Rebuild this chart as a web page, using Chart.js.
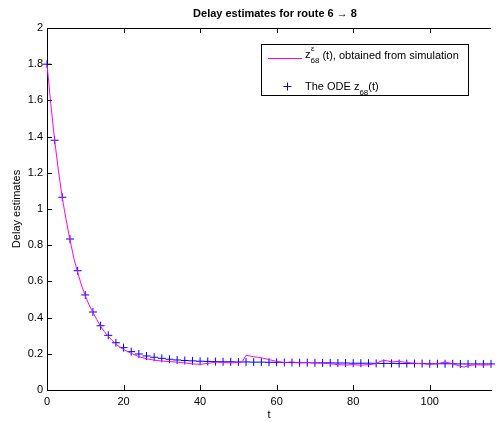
<!DOCTYPE html>
<html>
<head>
<meta charset="utf-8">
<script src="https://cdn.jsdelivr.net/npm/chart.js@4.4.0/dist/chart.umd.min.js"></script>
<style>
html, body { margin: 0; padding: 0; background: #fff; }
#wrap { width: 496px; height: 422px; }
</style>
</head>
<body>
<div id="wrap"><canvas id="delayChart" width="496" height="422"></canvas></div>
<script>
// ODE solution, sampled every 2 time units
var odeT = [0, 2, 4, 6, 8, 10, 12, 14, 16, 18, 20, 22, 24, 26, 28, 30, 32, 34, 36, 38,
            40, 42, 44, 46, 48, 50, 52, 54, 56, 58, 60, 62, 64, 66, 68, 70, 72, 74, 76, 78,
            80, 82, 84, 86, 88, 90, 92, 94, 96, 98, 100, 102, 104, 106, 108, 110, 112, 114, 116];
var odeZ = [1.80, 1.38, 1.065, 0.834, 0.659, 0.525, 0.431, 0.355, 0.302, 0.261,
            0.234, 0.212, 0.199, 0.188, 0.181, 0.175, 0.170, 0.166, 0.163, 0.161,
            0.159, 0.158, 0.157, 0.156, 0.156, 0.155, 0.155, 0.154, 0.154, 0.153,
            0.153, 0.152, 0.152, 0.151, 0.151, 0.150, 0.150, 0.150, 0.149, 0.149,
            0.148, 0.148, 0.148, 0.147, 0.147, 0.147, 0.146, 0.146, 0.146, 0.146,
            0.145, 0.145, 0.145, 0.145, 0.144, 0.144, 0.144, 0.144, 0.144];

// simulation trace
var simT = [0, 1, 2, 3, 4, 5, 6, 7, 8, 9, 10, 11, 12, 13, 14, 15, 16, 17, 18, 19, 20,
            22, 24, 26, 28, 30, 32, 34, 36, 38, 40, 42, 44, 46, 48, 50, 51, 52, 53, 54, 56, 58,
            60, 62, 64, 66, 68, 70, 72, 74, 76, 78, 80, 82, 84, 86, 87, 88, 89, 90, 92, 94,
            96, 98, 100, 102, 104, 105, 106, 108, 109, 110, 112, 114, 116];
var simZ = [1.80, 1.58, 1.38, 1.21, 1.06, 0.94, 0.83, 0.73, 0.65, 0.58, 0.52, 0.47, 0.428, 0.39, 0.352, 0.322, 0.297, 0.274, 0.254, 0.238, 0.224,
            0.203, 0.184, 0.172, 0.165, 0.160, 0.157, 0.154, 0.150, 0.144, 0.142, 0.147, 0.154, 0.152, 0.150, 0.152, 0.155, 0.192, 0.188, 0.184, 0.178, 0.168,
            0.158, 0.152, 0.155, 0.150, 0.152, 0.150, 0.148, 0.145, 0.140, 0.138, 0.140, 0.137, 0.140, 0.145, 0.158, 0.163, 0.161, 0.155, 0.158, 0.152,
            0.148, 0.145, 0.142, 0.145, 0.155, 0.150, 0.145, 0.131, 0.127, 0.134, 0.140, 0.137, 0.140];

var xTickValues = [0, 20, 40, 60, 80, 100];
var yTickValues = [0, 0.2, 0.4, 0.6, 0.8, 1, 1.2, 1.4, 1.6, 1.8, 2];
var titleText = 'Delay estimates for route 6 \u2192 8';
var xLabel = 't';
var yLabel = 'Delay estimates';

var FONT = '"Liberation Sans", Arial, Helvetica, sans-serif';

function toPoints(xs, ys) {
    return xs.map(function(x, i) { return { x: x, y: ys[i] }; });
}

// MATLAB-like frame: inward ticks, top border, title and legend box
var matlabFrame = {
    id: 'matlabFrame',
    afterDraw: function(chart) {
        var ctx = chart.ctx;
        var area = chart.chartArea;
        var xs = chart.scales.x, ys = chart.scales.y;
        ctx.save();
        ctx.strokeStyle = '#000';
        ctx.lineWidth = 1;
        ctx.beginPath();
        ctx.moveTo(area.left, area.top + 0.5);
        ctx.lineTo(area.right, area.top + 0.5);
        xTickValues.forEach(function(v) {
            var px = Math.round(xs.getPixelForValue(v)) + 0.5;
            ctx.moveTo(px, area.bottom);
            ctx.lineTo(px, area.bottom - 5);
            ctx.moveTo(px, area.top);
            ctx.lineTo(px, area.top + 5);
        });
        yTickValues.forEach(function(v) {
            var py = Math.round(ys.getPixelForValue(v)) + 0.5;
            ctx.moveTo(area.left, py);
            ctx.lineTo(area.left + 5, py);
        });
        ctx.stroke();

        // title
        ctx.fillStyle = '#000';
        ctx.font = 'bold 11px ' + FONT;
        ctx.textAlign = 'center';
        ctx.textBaseline = 'alphabetic';
        ctx.fillText(titleText, 275, 17);

        // legend
        var bx = 261.5, by = 44.5, bw = 207, bh = 51;
        ctx.fillStyle = '#fff';
        ctx.fillRect(bx, by, bw, bh);
        ctx.strokeStyle = '#000';
        ctx.strokeRect(bx, by, bw, bh);

        ctx.strokeStyle = '#ff00ff';
        ctx.beginPath();
        ctx.moveTo(268, 58.5);
        ctx.lineTo(302, 58.5);
        ctx.stroke();

        ctx.strokeStyle = '#0000ff';
        ctx.beginPath();
        ctx.moveTo(283.5, 86.5);
        ctx.lineTo(291.5, 86.5);
        ctx.moveTo(287.5, 82.5);
        ctx.lineTo(287.5, 90.5);
        ctx.stroke();

        ctx.fillStyle = '#000';
        ctx.textAlign = 'left';
        var big = '11px ' + FONT, small = '8px ' + FONT;
        var x = 305;
        ctx.font = big;
        ctx.fillText('z', x, 58);
        x += ctx.measureText('z').width;
        ctx.font = small;
        ctx.fillText('\u03b5', x + 0.5, 51);
        ctx.fillText('68', x, 63);
        x += ctx.measureText('68').width;
        ctx.font = big;
        ctx.fillText(' (t), obtained from simulation', x, 59);

        x = 305;
        ctx.fillText('The ODE z', x, 90);
        x += ctx.measureText('The ODE z').width;
        ctx.font = small;
        ctx.fillText('68', x, 95);
        x += ctx.measureText('68').width;
        ctx.font = big;
        ctx.fillText('(t)', x, 90);
        ctx.restore();
    }
};

var ctx = document.getElementById('delayChart').getContext('2d');
var delayChart = new Chart(ctx, {
    type: 'scatter',
    data: {
        datasets: [{
            label: 'simulation',
            data: toPoints(simT, simZ),
            showLine: true,
            borderColor: '#ff00ff',
            borderWidth: 1,
            pointRadius: 0,
            fill: false,
            tension: 0
        }, {
            label: 'ODE',
            data: toPoints(odeT, odeZ),
            showLine: false,
            clip: false,
            pointStyle: 'cross',
            pointRadius: 4,
            borderColor: '#0000ff',
            backgroundColor: '#0000ff',
            pointBorderWidth: 1
        }]
    },
    options: {
        responsive: false,
        animation: false,
        devicePixelRatio: 1,
        layout: { padding: { top: 28, right: 0, left: 0, bottom: 0 } },
        plugins: {
            legend: { display: false },
            tooltip: { enabled: false },
            title: { display: false }
        },
        scales: {
            x: {
                type: 'linear',
                min: 0,
                max: 116,
                afterFit: function(scale) { scale.height = 32; },
                afterBuildTicks: function(scale) {
                    scale.ticks = xTickValues.map(function(v) { return { value: v }; });
                },
                grid: { display: false, drawTicks: false },
                border: { display: true, color: '#000', width: 1 },
                ticks: { color: '#000', font: { size: 11, family: FONT }, padding: 5, maxRotation: 0 },
                title: { display: true, text: xLabel, color: '#000', font: { size: 11, family: FONT }, padding: { top: 3, bottom: 0 } }
            },
            y: {
                min: 0,
                max: 2,
                afterFit: function(scale) { scale.width = 47; },
                afterBuildTicks: function(scale) {
                    scale.ticks = yTickValues.map(function(v) { return { value: v }; });
                },
                grid: { display: false, drawTicks: false },
                border: { display: true, color: '#000', width: 1 },
                ticks: {
                    color: '#000',
                    font: { size: 11, family: FONT },
                    padding: 4,
                    callback: function(v) { return String(Number(v.toFixed(1))); }
                },
                title: { display: true, text: yLabel, color: '#000', font: { size: 11, family: FONT }, padding: { top: 10, bottom: 0 } }
            }
        }
    },
    plugins: [matlabFrame]
});
</script>
</body>
</html>
